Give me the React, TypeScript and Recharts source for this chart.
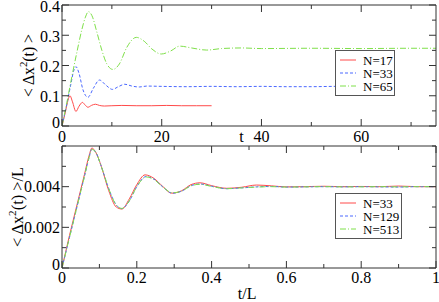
import React from 'react';
import { LineChart, Line, XAxis, YAxis, Legend } from 'recharts';

// top panel: <dx^2(t)> vs t
const t17 = [0, 0.7, 1.2, 1.6, 2.1, 2.8, 3.4, 4.1, 4.6, 5.2, 5.9, 6.7, 7.5, 8.5, 10, 12, 15, 18, 21, 24, 27, 30];
const v17 = [0, 0.048, 0.085, 0.1, 0.08, 0.048, 0.065, 0.078, 0.07, 0.062, 0.068, 0.072, 0.068, 0.066, 0.067, 0.068, 0.067, 0.067, 0.068, 0.067, 0.067, 0.067];

const t33 = [0, 1, 1.8, 2.3, 2.8, 3.4, 4.2, 5.2, 6.3, 7.5, 8.8, 10.1, 11.3, 12.6, 14, 15.5, 17, 20, 25, 30, 35, 40, 45, 50, 55, 58];
const v33 = [0, 0.075, 0.14, 0.18, 0.196, 0.175, 0.12, 0.095, 0.125, 0.152, 0.135, 0.121, 0.13, 0.138, 0.132, 0.129, 0.132, 0.131, 0.13, 0.131, 0.13, 0.131, 0.13, 0.13, 0.131, 0.13];

const t65 = [0, 1, 2, 3, 4, 4.7, 5.3, 6, 7, 8, 9, 10.2, 11.5, 13, 14.9, 16.5, 18, 19.9, 21.8, 23.6, 26, 29, 32, 36, 40, 50, 60, 70, 75];
const v65 = [0, 0.08, 0.165, 0.245, 0.32, 0.36, 0.378, 0.365, 0.31, 0.25, 0.205, 0.187, 0.205, 0.26, 0.293, 0.28, 0.255, 0.238, 0.248, 0.264, 0.258, 0.251, 0.256, 0.258, 0.256, 0.257, 0.256, 0.257, 0.257];

// bottom panel: <dx^2(t)>/L vs t/L
const s33 = [0, 0.02, 0.04, 0.06, 0.072, 0.08, 0.09, 0.105, 0.125, 0.145, 0.16, 0.18, 0.2, 0.222, 0.245, 0.27, 0.293, 0.32, 0.345, 0.369, 0.4, 0.44, 0.48, 0.52, 0.56, 0.6, 0.65, 0.7, 0.75, 0.8, 0.85, 0.9, 0.95, 1];
const w33 = [0, 0.0016, 0.0031, 0.0046, 0.0055, 0.0059, 0.0057, 0.005, 0.0038, 0.003, 0.0029, 0.0034, 0.0041, 0.00458, 0.00442, 0.004, 0.00368, 0.0038, 0.0041, 0.00419, 0.00405, 0.00392, 0.00397, 0.00408, 0.00404, 0.00399, 0.004, 0.00402, 0.004, 0.00401, 0.004, 0.00403, 0.004, 0.004];

const s129 = [0, 0.02, 0.04, 0.06, 0.072, 0.08, 0.09, 0.105, 0.125, 0.145, 0.16, 0.18, 0.2, 0.225, 0.245, 0.27, 0.295, 0.32, 0.345, 0.37, 0.4, 0.44, 0.48, 0.52, 0.56, 0.6, 0.65, 0.7, 0.75, 0.8, 0.85, 0.9, 0.95, 1];
const w129 = [0, 0.0015, 0.003, 0.0045, 0.0054, 0.00585, 0.0057, 0.005, 0.0039, 0.0031, 0.00292, 0.0033, 0.004, 0.0045, 0.00438, 0.00398, 0.00368, 0.00378, 0.00405, 0.00413, 0.00402, 0.0039, 0.00394, 0.00399, 0.00401, 0.00398, 0.00399, 0.004, 0.00399, 0.004, 0.00399, 0.00398, 0.004, 0.004];

const s513 = [0, 0.02, 0.04, 0.06, 0.072, 0.08, 0.09, 0.105, 0.125, 0.145, 0.16, 0.18, 0.2, 0.225, 0.245, 0.27, 0.295, 0.32, 0.345, 0.37, 0.4, 0.44, 0.48, 0.52, 0.56, 0.6, 0.65, 0.7, 0.75, 0.8, 0.85, 0.9, 0.95, 1];
const w513 = [0, 0.0015, 0.003, 0.0045, 0.0054, 0.00583, 0.0057, 0.005, 0.0039, 0.0031, 0.00293, 0.0033, 0.004, 0.00448, 0.00436, 0.00398, 0.0037, 0.00378, 0.00404, 0.00412, 0.00401, 0.0039, 0.00394, 0.00398, 0.004, 0.00398, 0.00399, 0.004, 0.00399, 0.00399, 0.004, 0.00399, 0.004, 0.004];

const topXTicks = [0, 10, 20, 30, 40, 50, 60, 70];
const topXLabels = [0, 20, 40, 60];
const topYTicks = [0, 0.05, 0.1, 0.15, 0.2, 0.25, 0.3, 0.35, 0.4];
const topYLabels = [0, 0.1, 0.2, 0.3, 0.4];
const botXTicks = [0, 0.1, 0.2, 0.3, 0.4, 0.5, 0.6, 0.7, 0.8, 0.9, 1];
const botXLabels = [0, 0.2, 0.4, 0.6, 0.8, 1];
const botYTicks = [0, 0.001, 0.002, 0.003, 0.004, 0.005, 0.006];
const botYLabels = [0, 0.002, 0.004];

const topNames = ['N=17', 'N=33', 'N=65'];
const botNames = ['N=33', 'N=129', 'N=513'];

const RED = '#ff4a4a';
const BLUE = '#4a68ff';
const GREEN = '#7fe04a';
const DASHES = [undefined, '3 2', '6 2 1 2'];
const COLORS = [RED, BLUE, GREEN];
const FRAME = '#333';
const FONT = 'Liberation Serif, Times New Roman, DejaVu Serif, serif';
const txt = { fontFamily: FONT, fontSize: 16 };

const pts = (xs: number[], ys: number[]) => xs.map((x, i) => ({ x, y: ys[i] }));

const fmt = (v: number) => String(v);

const tickBottom = (labels: number[], up: number) => (p: any) => {
  const v = p.payload.value;
  const isLab = labels.includes(v);
  return (
    <g>
      <line x1={p.x} x2={p.x} y1={p.y} y2={p.y - (isLab ? 7 : 4)} stroke={FRAME} />
      {isLab && (
        <text x={p.x} y={p.y + up} textAnchor="middle" style={txt} fill="#000">
          {fmt(v)}
        </text>
      )}
    </g>
  );
};

const tickTop = (labels: number[]) => (p: any) => {
  const major = labels.includes(p.payload.value);
  return <line x1={p.x} x2={p.x} y1={p.y} y2={p.y + (major ? 7 : 4)} stroke={FRAME} />;
};

const tickLeft = (labels: number[], dy: number) => (p: any) => {
  const v = p.payload.value;
  const isLab = labels.includes(v);
  return (
    <g>
      <line x1={p.x} x2={p.x + (isLab ? 7 : 4)} y1={p.y} y2={p.y} stroke={FRAME} />
      {isLab && (
        <text x={p.x - 2} y={p.y + (v === 0 ? 1.5 : dy)} textAnchor="end" style={txt} fill="#000">
          {fmt(v)}
        </text>
      )}
    </g>
  );
};

const tickRight = (labels: number[]) => (p: any) => {
  const major = labels.includes(p.payload.value);
  return <line x1={p.x} x2={p.x - (major ? 7 : 4)} y1={p.y} y2={p.y} stroke={FRAME} />;
};

const yTitle = (dx: number, suffix: string, len: number) => (props: any) => {
  const vb = props.viewBox;
  const x = vb.x + vb.width - dx;
  const y = vb.y + vb.height / 2;
  return (
    <text
      x={x} y={y} transform={`rotate(-90 ${x} ${y})`} textAnchor="middle" style={txt} fill="#000"
      textLength={len} lengthAdjust="spacingAndGlyphs"
    >
      {'< Δx'}
      <tspan dy={-7} fontSize={11}>2</tspan>
      <tspan dy={7}>{'(t) >' + suffix}</tspan>
    </text>
  );
};

const xTitle = (text: string, frac: number, dy: number) => (props: any) => {
  const vb = props.viewBox;
  return (
    <text x={vb.x + vb.width * frac} y={vb.y + dy} textAnchor="middle" style={txt} fill="#000">
      {text}
    </text>
  );
};

function LegendBox({ names, width }: { names: string[]; width: number }) {
  return (
    <div
      style={{
        width,
        boxSizing: 'border-box',
        border: '1px solid #555',
        background: '#fff',
        padding: '2.5px 0 2.5px 4px',
        fontFamily: FONT,
        fontSize: 13,
        lineHeight: '13px',
        color: '#000',
      }}
    >
      {names.map((n, i) => (
        <div key={n} style={{ display: 'flex', alignItems: 'center', height: 13 }}>
          <svg width={16} height={6} style={{ display: 'block' }}>
            <line x1={0} x2={16} y1={3} y2={3} stroke={COLORS[i]} strokeDasharray={DASHES[i]} />
          </svg>
          <span style={{ marginLeft: 7 }}>{n}</span>
        </div>
      ))}
    </div>
  );
}

function Panel({
  width, height, margin, xDomain, yDomain, xTicks, xLabels, yTicks, yLabels, yLabelDy,
  series, names, legendPos, legendWidth, xTitleText, xTitleFrac, xTitleDy, labelUp, yTitleDx, ySuffix, yTitleLen,
}: any) {
  return (
    <LineChart width={width} height={height} margin={margin}>
      <XAxis
        type="number" dataKey="x" domain={xDomain} ticks={xTicks} interval={0} allowDataOverflow
        height={1} tickSize={0} tickMargin={0} stroke={FRAME} tick={tickBottom(xLabels, labelUp)}
        label={{ content: xTitle(xTitleText, xTitleFrac, xTitleDy) }}
      />
      <XAxis
        xAxisId="top" orientation="top" type="number" dataKey="x" domain={xDomain} ticks={xTicks} interval={0}
        allowDataOverflow height={1} tickSize={0} tickMargin={0} stroke={FRAME} tick={tickTop(xLabels)}
      />
      <YAxis
        type="number" domain={yDomain} ticks={yTicks} interval={0} allowDataOverflow width={1}
        tickSize={0} tickMargin={0} stroke={FRAME} tick={tickLeft(yLabels, yLabelDy)}
        label={{ content: yTitle(yTitleDx, ySuffix, yTitleLen) }}
      />
      <YAxis
        yAxisId="right" orientation="right" type="number" domain={yDomain} ticks={yTicks} interval={0}
        allowDataOverflow width={1} tickSize={0} tickMargin={0} stroke={FRAME} tick={tickRight(yLabels)}
      />
      {series.map((d: any[], i: number) => (
        <Line
          key={names[i]} name={names[i]} data={d} dataKey="y" type="monotone" stroke={COLORS[i]}
          strokeWidth={1} strokeDasharray={DASHES[i]} dot={false} isAnimationActive={false}
        />
      ))}
      <Legend
        layout="vertical" align="center" verticalAlign="middle"
        wrapperStyle={{ position: 'absolute', left: legendPos[0], top: legendPos[1], width: legendWidth }}
        content={() => <LegendBox names={names} width={legendWidth} />}
      />
    </LineChart>
  );
}

export default function App() {
  return (
    <div style={{ position: 'absolute', left: 0, top: 0, width: 439, height: 302, background: '#fff' }}>
      <div style={{ position: 'absolute', left: 0, top: 0 }}>
        <Panel
          width={439} height={150} margin={{ top: 4, right: 2, bottom: 23, left: 61 }}
          xDomain={[0, 75]} yDomain={[0, 0.4]} xTicks={topXTicks} xLabels={topXLabels}
          yTicks={topYTicks} yLabels={topYLabels} yLabelDy={6.5}
          series={[pts(t17, v17), pts(t33, v33), pts(t65, v65)]} names={topNames}
          legendPos={[335, 50]} legendWidth={60}
          xTitleText="t" xTitleFrac={0.48} xTitleDy={16} labelUp={16}
          yTitleDx={28} ySuffix="" yTitleLen={63}
        />
      </div>
      <div style={{ position: 'absolute', left: 0, top: 140 }}>
        <Panel
          width={439} height={162} margin={{ top: 5, right: 2, bottom: 33, left: 61 }}
          xDomain={[0, 1]} yDomain={[0, 0.006]} xTicks={botXTicks} xLabels={botXLabels}
          yTicks={botYTicks} yLabels={botYLabels} yLabelDy={5.5}
          series={[pts(s33, w33), pts(s129, w129), pts(s513, w513)]} names={botNames}
          legendPos={[335, 53]} legendWidth={67}
          xTitleText="t/L" xTitleFrac={0.495} xTitleDy={31} labelUp={15}
          yTitleDx={39} ySuffix="/L" yTitleLen={80}
        />
      </div>
    </div>
  );
}
